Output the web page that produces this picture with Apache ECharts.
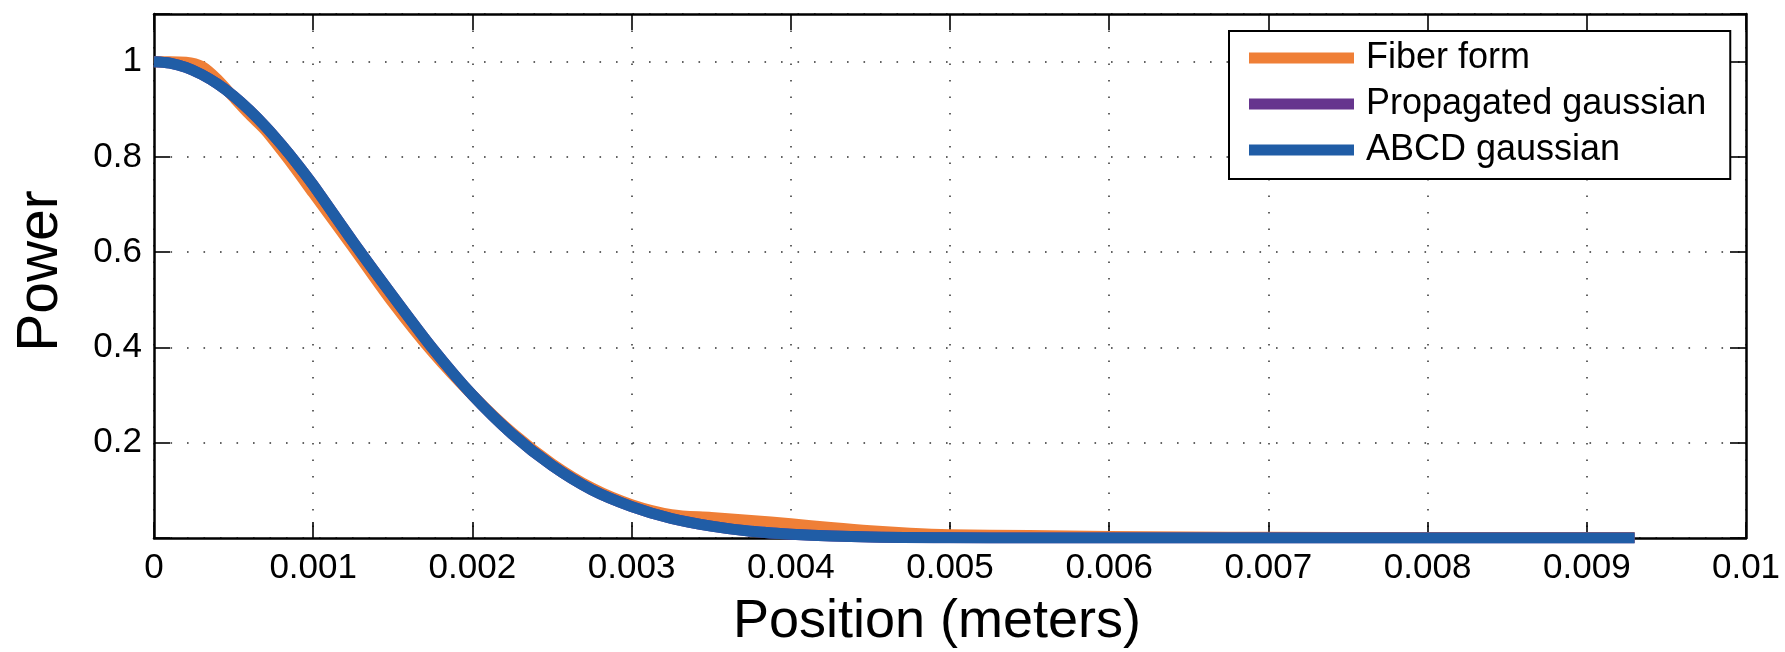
<!DOCTYPE html>
<html>
<head>
<meta charset="utf-8">
<script src="https://cdn.jsdelivr.net/npm/echarts@6/dist/echarts.min.js"></script>
<style>
  html, body { margin: 0; padding: 0; background: #ffffff; }
  #chart { width: 1785px; height: 652px; }
</style>
</head>
<body>
<div id="chart"></div>
<script>
// Beam power profile across the transverse position
const fiberX = [0, 0.0001, 0.0002, 0.0003, 0.0004, 0.0005, 0.0006, 0.0007, 0.0008, 0.0009,
  0.001, 0.00125, 0.0015, 0.00175, 0.002, 0.00225, 0.0025, 0.00275, 0.003, 0.00325,
  0.0035, 0.00375, 0.004, 0.00425, 0.0045, 0.00475, 0.005, 0.0055, 0.006, 0.0065,
  0.007, 0.008, 0.009, 0.0093];
const fiberPower = [1.000, 1.000, 0.999, 0.990, 0.962, 0.925, 0.889, 0.856, 0.814, 0.770,
  0.724, 0.610, 0.494, 0.390, 0.300, 0.221, 0.156, 0.105, 0.070, 0.049,
  0.043, 0.037, 0.030, 0.022, 0.015, 0.010, 0.007, 0.005, 0.003, 0.002,
  0.0015, 0.001, 0.001, 0.001];

const gaussX = [0, 0.0001, 0.0002, 0.0003, 0.0004, 0.0005, 0.0006, 0.0007, 0.0008, 0.0009,
  0.001, 0.00125, 0.0015, 0.00175, 0.002, 0.00225, 0.0025, 0.00275, 0.003, 0.00325,
  0.0035, 0.00375, 0.004, 0.0045, 0.005, 0.0055, 0.006, 0.007, 0.008, 0.009, 0.0093];
const propagatedPower = [1.000, 0.997, 0.988, 0.973, 0.953, 0.928, 0.898, 0.864, 0.826, 0.785,
  0.741, 0.622, 0.508, 0.398, 0.300, 0.218, 0.152, 0.101, 0.066, 0.041,
  0.025, 0.014, 0.008, 0.002, 0.0005, 0, 0, 0, 0, 0, 0];
const abcdPower = [1.000, 0.997, 0.988, 0.973, 0.953, 0.928, 0.898, 0.864, 0.826, 0.785,
  0.741, 0.622, 0.508, 0.398, 0.300, 0.218, 0.152, 0.101, 0.066, 0.041,
  0.025, 0.014, 0.008, 0.002, 0.0005, 0, 0, 0, 0, 0, 0];

const seriesNames = ['Fiber form', 'Propagated gaussian', 'ABCD gaussian'];
const seriesColors = ['#EF7F37', '#66358E', '#205DA6'];

const xTickLabels = ['0', '0.001', '0.002', '0.003', '0.004', '0.005', '0.006', '0.007', '0.008', '0.009', '0.01'];
const yTickLabels = ['', '0.2', '0.4', '0.6', '0.8', '1'];

const FONT = '"Liberation Sans", Arial, Helvetica, sans-serif';

const pairs = (xs, ys) => xs.map((x, i) => [x, ys[i]]);

const dotted = { type: [1.6, 14.9], color: '#303030', width: 1.5 };
const axisLine = { show: true, onZero: false, lineStyle: { color: '#000', width: 2.5 } };
const tick = { show: true, inside: true, length: 16, lineStyle: { color: '#000', width: 1.6 } };

const xBase = { type: 'value', min: 0, max: 0.01, interval: 0.001 };
const yBase = { type: 'value', min: 0, max: 1.1, interval: 0.2 };

const chart = echarts.init(document.getElementById('chart'), null, { renderer: 'canvas' });

chart.setOption({
  backgroundColor: '#ffffff',
  animation: false,
  grid: { left: 154, top: 14, width: 1592, height: 524, containLabel: false },
  xAxis: [
    Object.assign({}, xBase, {
      position: 'bottom',
      axisLine: axisLine,
      axisTick: tick,
      splitLine: { show: true, lineStyle: dotted },
      axisLabel: {
        show: true, margin: 13, color: '#000', fontSize: 35, fontFamily: FONT,
        formatter: v => xTickLabels[Math.round(v / 0.001)] ?? ''
      }
    }),
    Object.assign({}, xBase, {
      position: 'top',
      axisLine: axisLine,
      axisTick: tick,
      splitLine: { show: false },
      axisLabel: { show: false }
    })
  ],
  yAxis: [
    Object.assign({}, yBase, {
      position: 'left',
      axisLine: axisLine,
      axisTick: tick,
      splitLine: { show: true, lineStyle: dotted },
      axisLabel: {
        show: true, margin: 12, color: '#000', fontSize: 35, fontFamily: FONT,
        formatter: v => {
          const k = Math.round(v / 0.2);
          return Math.abs(v - k * 0.2) < 1e-9 ? (yTickLabels[k] ?? '') : '';
        }
      }
    }),
    Object.assign({}, yBase, {
      position: 'right',
      axisLine: axisLine,
      axisTick: tick,
      splitLine: { show: false },
      axisLabel: { show: false }
    })
  ],
  legend: {
    orient: 'vertical',
    left: 1229,
    top: 31,
    padding: [9, 24, 11, 20],
    itemGap: 10,
    itemWidth: 105,
    itemHeight: 11,
    icon: 'rect',
    selectedMode: false,
    backgroundColor: '#ffffff',
    borderColor: '#000',
    borderWidth: 2,
    borderRadius: 0,
    data: seriesNames,
    textStyle: { fontSize: 36, fontFamily: FONT, color: '#000', padding: [0, 0, 0, 7] }
  },
  graphic: [
    {
      type: 'text', x: 937, y: 622,
      style: { text: 'Position (meters)', font: '54px ' + FONT, fill: '#000', textAlign: 'center', textVerticalAlign: 'middle' }
    },
    {
      type: 'text', x: 41, y: 271, rotation: Math.PI / 2,
      style: { text: 'Power', font: '57px ' + FONT, fill: '#000', textAlign: 'center', textVerticalAlign: 'middle' }
    }
  ],
  series: [
    { name: seriesNames[0], data: pairs(fiberX, fiberPower), color: seriesColors[0] },
    { name: seriesNames[1], data: pairs(gaussX, propagatedPower), color: seriesColors[1] },
    { name: seriesNames[2], data: pairs(gaussX, abcdPower), color: seriesColors[2] }
  ].map(s => Object.assign({
    type: 'line',
    xAxisIndex: 0,
    yAxisIndex: 0,
    showSymbol: false,
    smooth: 0.3,
    clip: true,
    lineStyle: { width: 11, color: s.color, cap: 'butt', join: 'round' },
    itemStyle: { color: s.color }
  }, s))
});
</script>
</body>
</html>
